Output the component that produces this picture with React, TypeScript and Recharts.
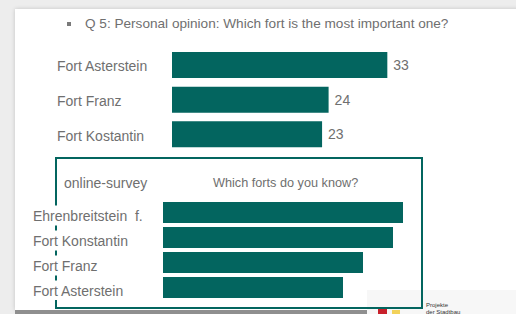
import React from 'react';
import { BarChart, Bar, XAxis, YAxis, LabelList } from 'recharts';

const importantForts = ['Fort Asterstein', 'Fort Franz', 'Fort Kostantin'];
const importantVotes = [33, 24, 23];
const knownForts = ['Ehrenbreitstein  f.', 'Fort Konstantin', 'Fort Franz', 'Fort Asterstein'];
const knownShare = [96, 92, 80, 72];

const TEAL = '#03655f';
const FONT = '"Liberation Sans", Arial, sans-serif';
const GREY = '#6f6f6f';

const topData = importantForts.map((name, i) => ({ name, value: importantVotes[i] }));
const bottomData = knownForts.map((name, i) => ({ name, value: knownShare[i] }));

const LeftTick = (props: any) => {
  const { y, payload, textX, bg, dy } = props;
  return (
    <g>
      {bg ? <rect x={textX - 3} y={y - 10 + dy} width={118} height={20} fill="#ffffff" /> : null}
      <text
        x={textX}
        y={y + dy}
        dy="0.36em"
        textAnchor="start"
        fill={GREY}
        fontSize={14}
        fontFamily={FONT}
        style={{ whiteSpace: 'pre' }}
      >
        {payload.value}
      </text>
    </g>
  );
};

export default function App() {
  return (
    <div
      style={{
        position: 'absolute',
        left: 0,
        top: 0,
        width: 516,
        height: 314,
        overflow: 'hidden',
        background: '#ededed',
        fontFamily: FONT,
      }}
    >
      {/* slide */}
      <div
        style={{
          position: 'absolute',
          left: 15,
          top: 9,
          width: 510,
          height: 301,
          background: '#ffffff',
          boxShadow: '0 0 4px rgba(0,0,0,0.18)',
        }}
      />
      {/* bottom strip */}
      <div style={{ position: 'absolute', left: 15, top: 310, width: 352, height: 4, background: '#8f8f8f' }} />
      <div style={{ position: 'absolute', left: 367, top: 290, width: 149, height: 24, background: '#f7f7f7' }} />
      <div style={{ position: 'absolute', left: 378, top: 309, width: 9, height: 5, background: '#c8202a' }} />
      <div style={{ position: 'absolute', left: 392, top: 310, width: 8, height: 4, background: '#f2d25a' }} />
      <div style={{ position: 'absolute', left: 426, top: 302, fontSize: 6, color: '#333', lineHeight: '7px' }}>
        Projekte
        <br />
        der Stadtbau
      </div>

      {/* title */}
      <div style={{ position: 'absolute', left: 67, top: 22, width: 4, height: 4, background: '#7a7a7a' }} />
      <div
        style={{
          position: 'absolute',
          left: 85,
          top: 16,
          fontSize: 13.6,
          lineHeight: '16px',
          color: GREY,
          whiteSpace: 'nowrap',
        }}
      >
        Q 5: Personal opinion: Which fort is the most important one?
      </div>

      {/* top chart */}
      <div style={{ position: 'absolute', left: 0, top: 48 }}>
        <BarChart
          width={516}
          height={104}
          data={topData}
          layout="vertical"
          margin={{ top: 0, right: 83, bottom: 0, left: 0 }}
        >
          <XAxis type="number" domain={[0, 40]} hide />
          <YAxis
            type="category"
            dataKey="name"
            width={172}
            axisLine={false}
            tickLine={false}
            tick={(p: any) => <LeftTick {...p} textX={57} bg={false} dy={1} />}
          />
          <Bar dataKey="value" fill={TEAL} barSize={26} isAnimationActive={false}>
            <LabelList
              dataKey="value"
              position="right"
              offset={6}
              fill={GREY}
              fontSize={14}
              fontFamily={FONT}
            />
          </Bar>
        </BarChart>
      </div>

      {/* bottom box */}
      <div
        style={{
          position: 'absolute',
          left: 55,
          top: 157,
          width: 364,
          height: 148,
          border: `2px solid ${TEAL}`,
        }}
      />
      <div
        style={{
          position: 'absolute',
          left: 64,
          top: 175,
          fontSize: 14,
          lineHeight: '16px',
          color: GREY,
          whiteSpace: 'nowrap',
        }}
      >
        online-survey
      </div>
      <div
        style={{
          position: 'absolute',
          left: 213,
          top: 176,
          fontSize: 12.7,
          lineHeight: '14px',
          color: GREY,
          whiteSpace: 'nowrap',
        }}
      >
        Which forts do you know?
      </div>

      {/* bottom chart */}
      <div style={{ position: 'absolute', left: 0, top: 200 }}>
        <BarChart
          width={516}
          height={100}
          data={bottomData}
          layout="vertical"
          margin={{ top: 0, right: 103, bottom: 0, left: 0 }}
        >
          <XAxis type="number" domain={[0, 100]} hide />
          <YAxis
            type="category"
            dataKey="name"
            width={163}
            axisLine={false}
            tickLine={false}
            tick={(p: any) => <LeftTick {...p} textX={33} bg={true} dy={3} />}
          />
          <Bar dataKey="value" fill={TEAL} barSize={21} isAnimationActive={false} />
        </BarChart>
      </div>
    </div>
  );
}
